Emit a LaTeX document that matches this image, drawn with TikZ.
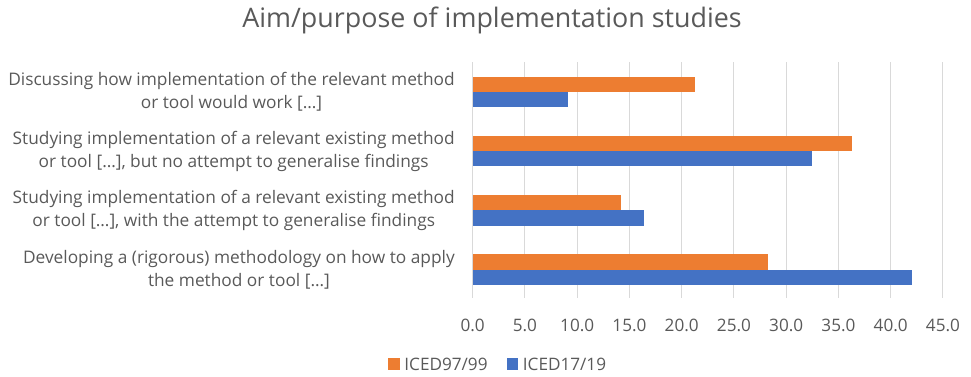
\documentclass[tikz,border=0pt]{standalone}
\usepackage{fontspec}
\setmainfont{Open Sans}
\usetikzlibrary{positioning}
\definecolor{txtgray}{HTML}{595959}
\definecolor{gridgray}{HTML}{D9D9D9}
\definecolor{icedold}{HTML}{ED7D31}
\definecolor{icednew}{HTML}{4472C4}

\begin{document}
\begin{tikzpicture}[x=0.025cm, y=-0.025cm,
    catlabel/.style={anchor=east, align=center, text=txtgray, inner sep=0pt, font=\fontsize{12.3}{16.4}\selectfont},
    ticklabel/.style={text=txtgray, inner sep=0pt, font=\fontsize{12.2}{14}\selectfont},
    legbox/.style={minimum size=0.28cm, inner sep=0pt},
    legtext/.style={text=txtgray, inner sep=0pt, font=\fontsize{12.2}{14}\selectfont}]

    \useasboundingbox (0,0) rectangle (971,376); % keep the page size

    \node [text=txtgray, font=\fontsize{19.1}{22}\selectfont] (title) at (492,20) {Aim/purpose of implementation studies}; % chart title

    % gridlines and tick labels
    \foreach \i/\tickval in {0/0.0, 1/5.0, 2/10.0, 3/15.0, 4/20.0, 5/25.0, 6/30.0, 7/35.0, 8/40.0, 9/45.0} {
        \draw [gridgray, line width=0.7pt] (472.7+52.25*\i,62) -- (472.7+52.25*\i,298);
        \node [ticklabel] (tick\i) at (472.7+52.25*\i,325) {\tickval};
    }

    % bars: y centre / orange / blue
    \foreach \yc/\vold/\vnew [count=\k] in {92/21.3/9.15, 151/36.3/32.5, 210.3/14.2/16.4, 269.7/28.3/42.0} {
        \fill [icedold] (472.7,\yc-15.3) rectangle (472.7+10.45*\vold,\yc); % ICED97/99
        \fill [icednew] (472.7,\yc) rectangle (472.7+10.45*\vnew,\yc+15.3); % ICED17/19
    }

    % category labels
    \node [catlabel] (cat1) at (455,92) {Discussing how implementation of the relevant method\\or tool would work [\dots]};
    \node [catlabel] (cat2) at (455,151) {Studying implementation of a relevant existing method\\or tool [\dots], but no attempt to generalise findings};
    \node [catlabel] (cat3) at (455,210.3) {Studying implementation of a relevant existing method\\or tool [\dots], with the attempt to generalise findings};
    \node [catlabel] (cat4) at (455,269.7) {Developing a (rigorous) methodology on how to apply\\the method or tool [\dots]};

    % legend
    \node [legbox, fill=icedold] (legold) at (394,364) {};
    \node [legtext, right=3pt of legold] (legoldtext) {ICED97/99};
    \node [legbox, fill=icednew] (legnew) at (512.5,364) {};
    \node [legtext, right=3pt of legnew] (legnewtext) {ICED17/19};
\end{tikzpicture}
\end{document}
